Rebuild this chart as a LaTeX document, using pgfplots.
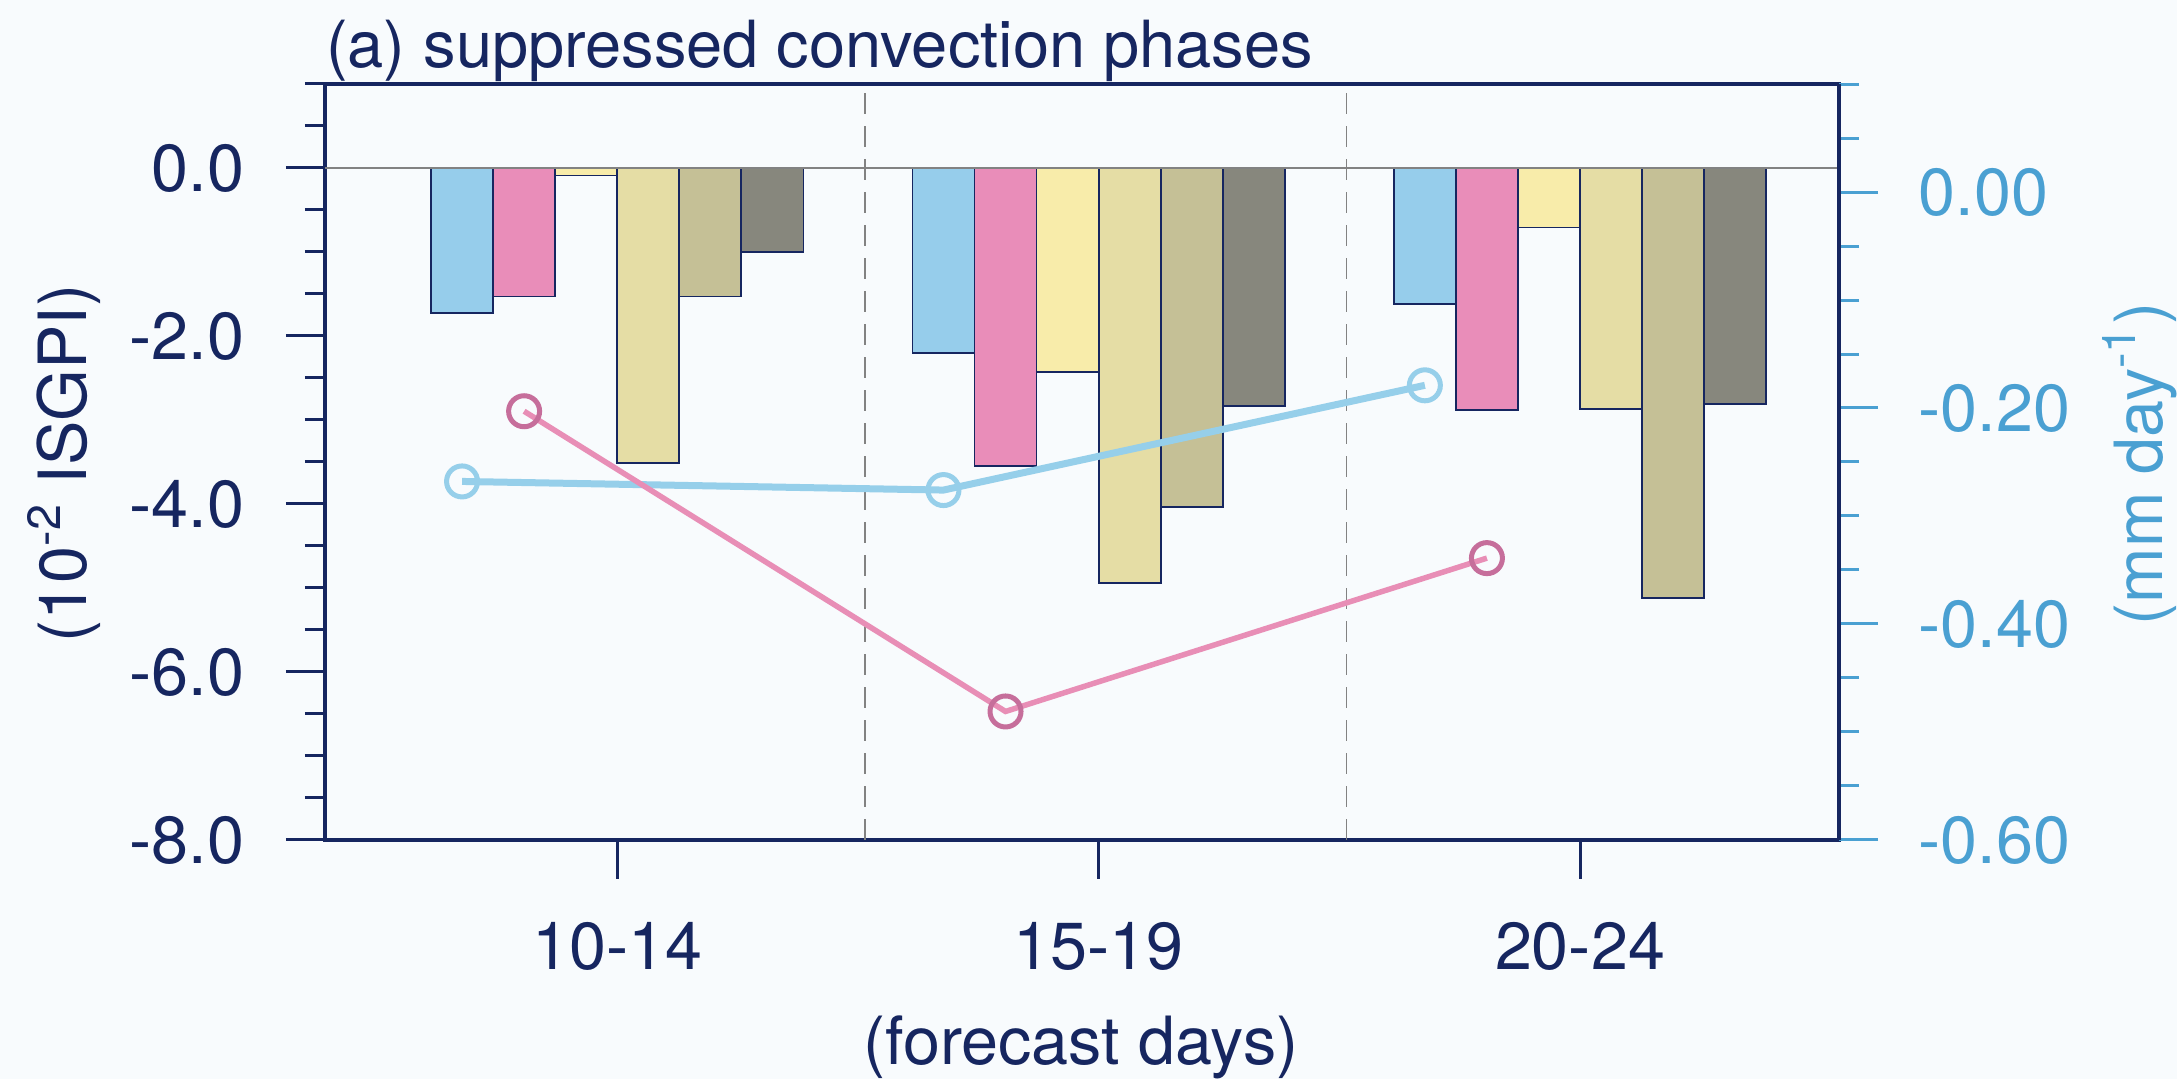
\documentclass[border=0pt]{standalone}
\usepackage{pgfplots}
\pgfplotsset{compat=1.18}
\usepackage{fontspec}
\setmainfont{TeX Gyre Heros}
\definecolor{bg}{RGB}{248,251,253}
\definecolor{navy}{RGB}{22,38,96}
\definecolor{rblue}{RGB}{74,160,210}
\definecolor{cblue}{RGB}{150,205,235}
\definecolor{cpink}{RGB}{233,141,185}
\definecolor{cyel}{RGB}{248,236,170}
\definecolor{ckhaki}{RGB}{229,221,165}
\definecolor{ctan}{RGB}{197,192,150}
\definecolor{cgray}{RGB}{135,135,125}
\definecolor{lblue}{RGB}{150,207,234}
\definecolor{lpink}{RGB}{232,142,182}
\definecolor{mpink}{RGB}{198,110,155}
\definecolor{zgray}{RGB}{130,130,130}
\newcommand{\lf}{\fontsize{13.3}{15.8}\selectfont}
\begin{document}
\begin{tikzpicture}
\fill[bg] (-65pt,-47.8pt) rectangle (370.4pt,168pt);
\begin{axis}[
  at={(0,0)}, anchor=south west,
  scale only axis, width=302.8pt, height=151.2pt,
  xmin=0.393, xmax=3.538, ymin=-8, ymax=1,
  axis line style={navy, line width=0.8pt},
  tick pos=left, tick align=outside,
  xtick={1,2,3}, xticklabels={10-14,15-19,20-24},
  ytick={-8,-6,-4,-2,0}, yticklabels={-8.0,-6.0,-4.0,-2.0,0.0},
  minor ytick={-7.5,-7,-6.5,-5.5,-5,-4.5,-3.5,-3,-2.5,-1.5,-1,-0.5,0.5,1},
  major tick length=7.8pt, minor tick length=4pt,
  tick style={navy, line width=0.6pt},
  tick label style={font=\lf, text=navy},
  xticklabel style={yshift=-5.2pt},
  yticklabel style={xshift=-4.8pt},
  ybar, bar width=0.1289, bar shift=0pt,
]
\addplot[ybar, bar shift=0pt, fill=cblue, draw=navy, line width=0.35pt] coordinates {(0.6777,-1.73) (1.6777,-2.20) (2.6777,-1.62)};
\addplot[ybar, bar shift=0pt, fill=cpink, draw=navy, line width=0.35pt] coordinates {(0.8066,-1.53) (1.8066,-3.55) (2.8066,-2.88)};
\addplot[ybar, bar shift=0pt, fill=cyel, draw=navy, line width=0.35pt] coordinates {(0.9355,-0.09) (1.9355,-2.43) (2.9355,-0.71)};
\addplot[ybar, bar shift=0pt, fill=ckhaki, draw=navy, line width=0.35pt] coordinates {(1.0645,-3.51) (2.0645,-4.94) (3.0645,-2.87)};
\addplot[ybar, bar shift=0pt, fill=ctan, draw=navy, line width=0.35pt] coordinates {(1.1934,-1.53) (2.1934,-4.04) (3.1934,-5.12)};
\addplot[ybar, bar shift=0pt, fill=cgray, draw=navy, line width=0.35pt] coordinates {(1.3223,-1.00) (2.3223,-2.83) (3.3223,-2.81)};
\addplot[sharp plot, no marks, zgray, line width=0.3pt] coordinates {(0.393,0) (3.538,0)};
\addplot[sharp plot, no marks, zgray, line width=0.3pt, dash pattern=on 4.2pt off 2.4pt] coordinates {(1.515,-8) (1.515,1)};
\addplot[sharp plot, no marks, zgray, line width=0.3pt, dash pattern=on 4.2pt off 2.4pt] coordinates {(2.515,-8) (2.515,1)};
\end{axis}
\begin{axis}[
  at={(0,0)}, anchor=south west,
  scale only axis, width=302.8pt, height=151.2pt,
  xmin=0.393, xmax=3.538, ymin=-0.6, ymax=0.1,
  axis x line=none, axis y line*=right,
  y axis line style={navy, line width=0.8pt},
  tick align=outside,
  ytick={-0.6,-0.4,-0.2,0}, yticklabels={-0.60,-0.40,-0.20,0.00},
  minor ytick={-0.55,-0.5,-0.45,-0.35,-0.3,-0.25,-0.15,-0.1,-0.05,0.05,0.1},
  major tick length=7.8pt, minor tick length=4pt,
  tick style={rblue, line width=0.6pt},
  tick label style={font=\lf, text=rblue},
  yticklabel style={xshift=4.6pt},
]
\addplot[lblue, line width=1.4pt, mark=o, mark size=3.1pt, mark options={draw=lblue, line width=1pt}] coordinates {(0.6777,-0.268) (1.6777,-0.276) (2.6777,-0.179)};
\addplot[lpink, line width=1.1pt, mark=o, mark size=3.1pt, mark options={draw=mpink, line width=1pt}] coordinates {(0.8066,-0.203) (1.8066,-0.481) (2.8066,-0.339)};
\end{axis}
\node[rotate=90, anchor=base, text=navy, font=\lf] at (-47.6pt,75.3pt) {(10\textsuperscript{-2} ISGPI)};
\node[rotate=90, anchor=base, text=rblue, font=\lf] at (367.4pt,75.2pt) {(mm day\textsuperscript{-1})};
\node[anchor=base, text=navy, font=\lf] at (151.2pt,-45pt) {(forecast days)};
\node[anchor=base west, inner sep=0pt, text=navy, font=\fontsize{13.0}{16}\selectfont] at (0pt,154.4pt) {(a) suppressed convection phases};
\pgfresetboundingbox
\useasboundingbox (-65pt,-47.8pt) rectangle (370.4pt,168pt);
\end{tikzpicture}
\end{document}
